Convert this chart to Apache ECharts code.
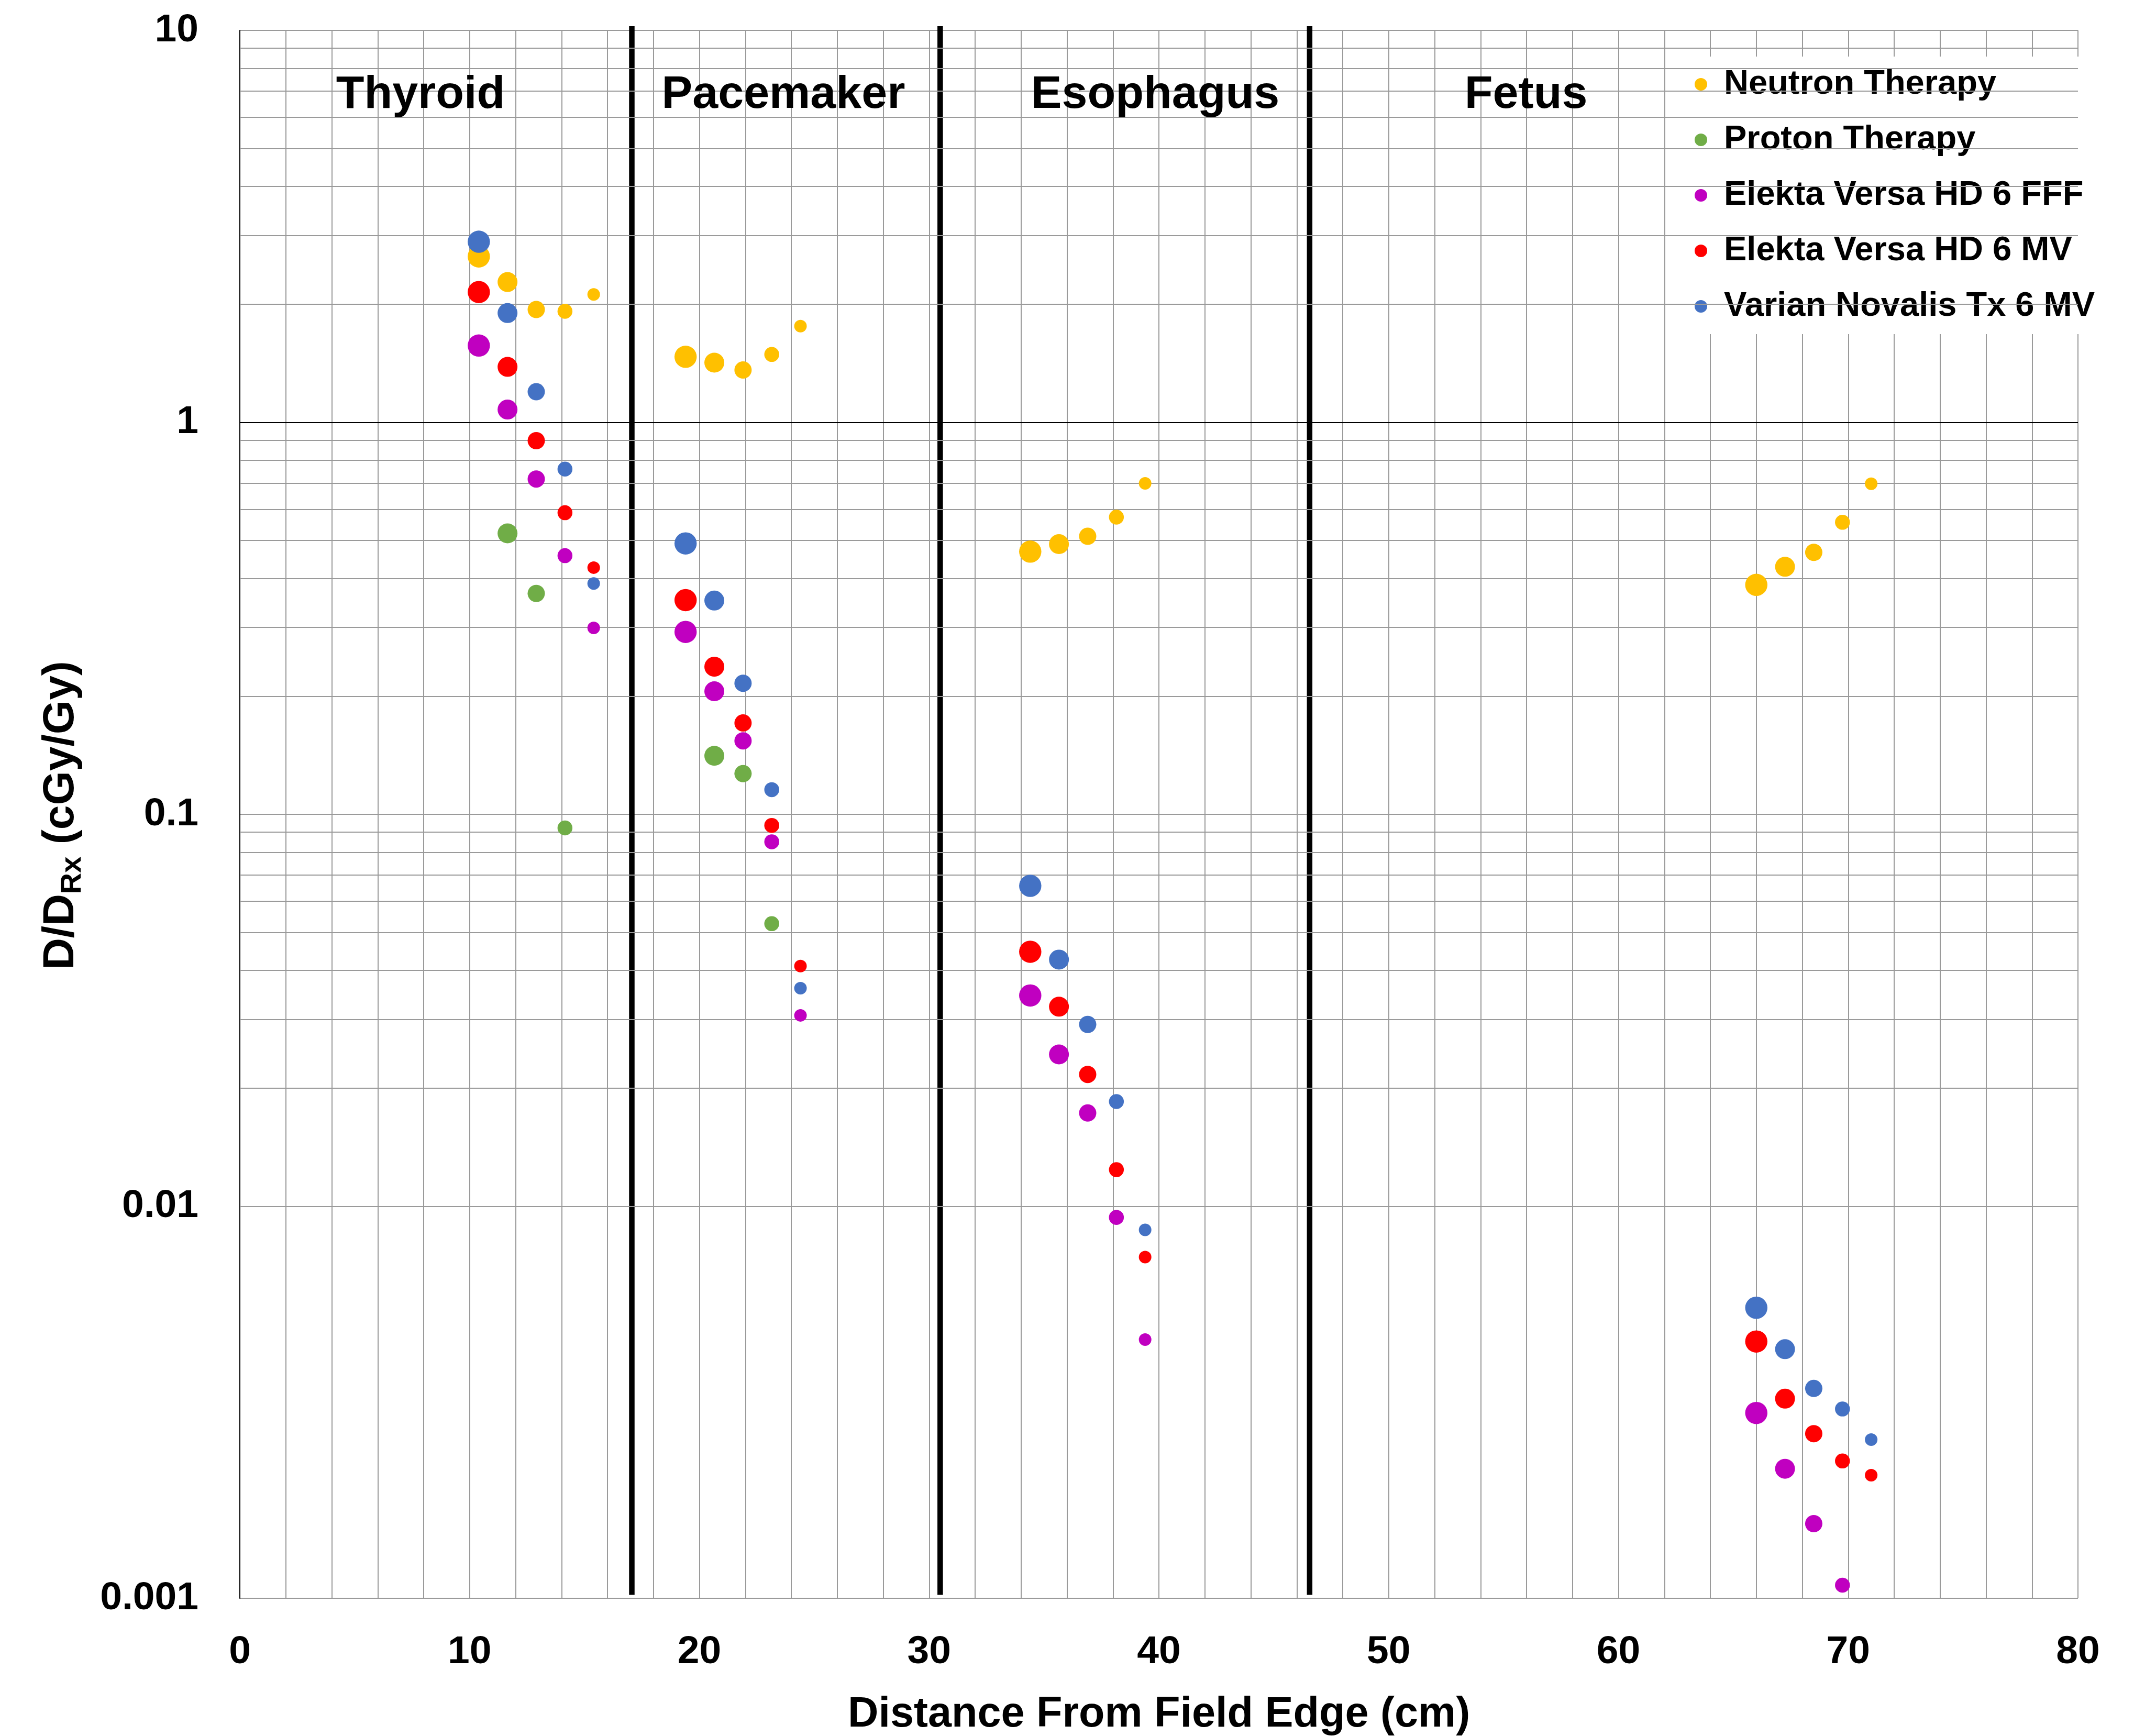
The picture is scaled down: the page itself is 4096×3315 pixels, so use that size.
<!DOCTYPE html>
<html><head><meta charset="utf-8">
<script src="https://cdn.jsdelivr.net/npm/echarts@6/dist/echarts.min.js"></script>
<style>html,body{margin:0;padding:0;background:#fff}#c{width:4096px;height:3315px}</style>
</head><body><div id="c"></div>
<script>
// ---- data ----
const seriesNames = ['Neutron Therapy', 'Proton Therapy', 'Elekta Versa HD 6 FFF', 'Elekta Versa HD 6 MV', 'Varian Novalis Tx 6 MV'];
const thyroidX   = [10.4, 11.65, 12.9, 14.15, 15.4];
const pacemakerX = [19.4, 20.65, 21.9, 23.15, 24.4];
const esophagusX = [34.4, 35.65, 36.9, 38.15, 39.4];
const fetusX     = [66.0, 67.25, 68.5, 69.75, 71.0];
// values ordered: thyroid(5), pacemaker(5), esophagus(5), fetus(5)
const neutron = [2.65, 2.28, 1.94, 1.92, 2.12,  1.47, 1.42, 1.36, 1.49, 1.76,  0.468, 0.489, 0.512, 0.573, 0.699,  0.385, 0.428, 0.466, 0.556, 0.697];
const proton  = [null, 0.521, 0.366, 0.0923, null,  null, 0.141, 0.127, 0.0526, null,  null, null, null, null, null,  null, null, null, null, null];
const elektaFFF = [1.57, 1.078, 0.717, 0.457, 0.299,  0.292, 0.206, 0.154, 0.0851, 0.0307,  0.0345, 0.0244, 0.0173, 0.00937, 0.00457,  0.00297, 0.00214, 0.00155, 0.00108, null];
const elekta6MV = [2.15, 1.385, 0.898, 0.588, 0.426,  0.352, 0.238, 0.171, 0.0937, 0.041,  0.0446, 0.0323, 0.0217, 0.0124, 0.00742,  0.00452, 0.00323, 0.00263, 0.00224, 0.00206];
const varian6MV = [2.89, 1.90, 1.197, 0.76, 0.388,  0.491, 0.351, 0.216, 0.1156, 0.036,  0.0657, 0.0426, 0.0291, 0.0185, 0.00871,  0.00551, 0.00432, 0.00343, 0.00304, 0.00254];
const regionNames = ['Thyroid', 'Pacemaker', 'Esophagus', 'Fetus'];
const separatorX = [17.06, 30.48, 46.56];
const xTickLabels = ['0', '10', '20', '30', '40', '50', '60', '70', '80'];
const yTickLabels = {'1': '10', '0': '1', '-1': '0.1', '-2': '0.01', '-3': '0.001'};

// ---- styles ----
const FONT = 'Liberation Sans, Arial, sans-serif';
const colors = ['#FFC000', '#70AD47', '#C000C0', '#FF0000', '#4472C4'];
const markerSizes = [42.5, 38, 33, 28.5, 24];
const gridColor = '#9a9a9a';

const positions = [].concat(thyroidX, pacemakerX, esophagusX, fetusX);
const allValues = [neutron, proton, elektaFFF, elekta6MV, varian6MV];

function buildData(vals) {
  const out = [];
  positions.forEach((x, i) => {
    if (vals[i] != null) out.push({ value: [x, vals[i]], symbolSize: markerSizes[i % 5] });
  });
  return out;
}

// minor horizontal grid lines (2..9 x 10^k)
const minorY = [];
for (let k = -3; k <= 0; k++) {
  for (let m = 2; m <= 9; m++) minorY.push({ yAxis: +(m * Math.pow(10, k)).toPrecision(3) });
}

const series = [];
series.push({
  type: 'line', name: '_grid', data: [], silent: true, z: 1,
  markLine: {
    silent: true, symbol: ['none', 'none'], animation: false, label: { show: false },
    lineStyle: { color: gridColor, width: 2, type: 'solid' },
    data: minorY.concat([{ yAxis: 1, lineStyle: { color: '#000', width: 2 } }])
  }
});
separatorX.forEach(sx => {
  series.push({
    type: 'line', name: '_sep', silent: true, clip: false, z: 3, symbol: 'none',
    lineStyle: { color: '#000', width: 10.5 },
    data: [[sx, 0.00102], [sx, 10.25]], animation: false
  });
});
seriesNames.forEach((n, si) => {
  series.push({
    type: 'scatter', name: n, data: buildData(allValues[si]), z: 5 + si,
    itemStyle: { color: colors[si], opacity: 1 }, animation: false
  });
});

const regionX = [803, 1496, 2206, 2914];
const regionGraphics = regionNames.map((t, i) => ({
  type: 'text', x: regionX[i], y: 182, z: 100,
  style: { text: t, font: 'bold 88px ' + FONT, fill: '#000', textAlign: 'center', textVerticalAlign: 'middle' }
}));

const chart = echarts.init(document.getElementById('c'), null, { renderer: 'canvas' });
chart.setOption({
  backgroundColor: '#fff',
  animation: false,
  grid: { left: 458, right: 128, top: 58, bottom: 263, containLabel: false, outerBoundsMode: 'none' },
  xAxis: {
    type: 'value', min: 0, max: 80, interval: 10,
    axisLine: { show: false }, axisTick: { show: false },
    axisLabel: { margin: 66, fontFamily: FONT, fontWeight: 'bold', fontSize: 75, color: '#000',
      formatter: v => xTickLabels[Math.round(v / 10)] },
    splitLine: { show: true, lineStyle: { color: gridColor, width: 2 } },
    minorTick: { show: false, splitNumber: 5 },
    minorSplitLine: { show: true, lineStyle: { color: gridColor, width: 2 } }
  },
  yAxis: {
    type: 'log', logBase: 10, min: 0.001, max: 10,
    axisLine: { show: true, lineStyle: { color: '#000', width: 2 } },
    axisTick: { show: false },
    axisLabel: { margin: 79, fontFamily: FONT, fontWeight: 'bold', fontSize: 75, color: '#000',
      formatter: v => yTickLabels[String(Math.round(Math.log10(v)))] },
    splitLine: { show: true, lineStyle: { color: gridColor, width: 2 } }
  },
  legend: {
    data: seriesNames, orient: 'vertical', left: 3205, top: 108, backgroundColor: '#fff',
    padding: [18, 20, 18, 31], itemWidth: 24, itemHeight: 24, itemGap: 36, icon: 'circle',
    textStyle: { fontFamily: FONT, fontWeight: 'bold', fontSize: 65, color: '#000', lineHeight: 70, padding: [0, 0, 0, 27] }
  },
  graphic: regionGraphics.concat([
    { type: 'text', x: 2213, y: 3275, z: 100, style: { text: 'Distance From Field Edge (cm)', font: 'bold 81px ' + FONT, fill: '#000', textAlign: 'center', textVerticalAlign: 'middle' } },
    { type: 'text', x: 117, y: 1557, rotation: Math.PI / 2, z: 100,
      style: {
        text: '{m|D/D}{s|Rx}{m| (cGy/Gy)}', textAlign: 'center', textVerticalAlign: 'middle', fill: '#000',
        rich: {
          m: { fontFamily: FONT, fontWeight: 'bold', fontSize: 84, lineHeight: 100, verticalAlign: 'middle', fill: '#000' },
          s: { fontFamily: FONT, fontWeight: 'bold', fontSize: 56, lineHeight: 34, verticalAlign: 'bottom', fill: '#000' }
        }
      } }
  ]),
  series: series
});
</script></body></html>
